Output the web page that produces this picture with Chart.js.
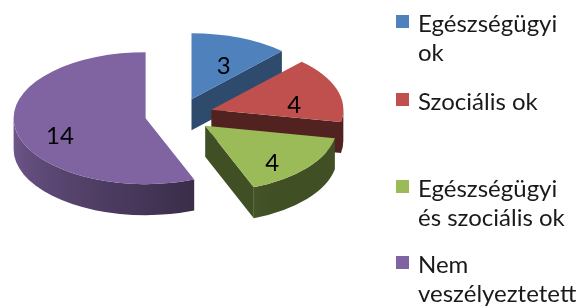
<!DOCTYPE html>
<html>
<head>
<meta charset="utf-8">
<script src="https://cdn.jsdelivr.net/npm/chart.js@4/dist/chart.umd.min.js"></script>
<style>
  html, body { margin: 0; padding: 0; background: #fff; }
  #wrap { position: relative; width: 584px; height: 308px; overflow: hidden; }
  #legend { position: absolute; left: 0; top: 0; width: 584px; height: 308px; font-family: Lato, sans-serif; font-size: 24px; color: #1a1a1a; }
  .item { position: absolute; left: 396px; }
  .box { position: absolute; left: 0; width: 13px; height: 13px; }
  .txt { position: absolute; left: 22px; white-space: pre; line-height: 29px; }
</style>
</head>
<body>
<div id="wrap">
  <canvas id="pie" width="584" height="308"></canvas>
  <div id="legend"></div>
</div>
<script>
// chart data
const categories = ['Egészségügyi\nok', 'Szociális ok', 'Egészségügyi\nés szociális ok', 'Nem\nveszélyeztetett'];
const values = [3, 4, 4, 14];
const colors = ['#4F81BD', '#C0504D', '#9BBB59', '#8064A2'];

function shade(hex, f) {
  const n = parseInt(hex.slice(1), 16);
  const r = Math.round(((n >> 16) & 255) * f);
  const g = Math.round(((n >> 8) & 255) * f);
  const b = Math.round((n & 255) * f);
  return `rgb(${r},${g},${b})`;
}

// brightness of the outer wall for a given angle (light from the left)
function wallLight(t) {
  const deg = t * 180 / Math.PI;
  if (deg <= 60) return 0.42;
  return 0.42 + 0.46 * Math.min(1, (deg - 60) / 120);
}

// brightness of a cut face, by the direction of its normal
function faceLight(n) {
  return 0.42 + 0.22 * Math.max(0, Math.cos(n));
}

/**
 * Draws the pie tilted with depth and exploded slices
 */
const pie3d = {
  id: 'pie3d',
  beforeDatasetsDraw(chart, args, opts) {
    const ctx = chart.ctx;
    const meta = chart.getDatasetMeta(0);
    const area = chart.chartArea;
    const cyc = (area.top + area.bottom) / 2;
    const k = opts.tilt, D = opts.depth, ex = opts.explode, cy = opts.centerY;

    const slices = meta.data.map((arc, i) => {
      const p = arc.getProps(['x', 'y', 'startAngle', 'endAngle', 'outerRadius'], true);
      const mid = (p.startAngle + p.endAngle) / 2;
      const dx = ex * Math.cos(mid), dy = ex * Math.sin(mid);
      return {
        arc, i, mid, dx, dy, R: p.outerRadius,
        start: p.startAngle, end: p.endAngle,
        px: p.x + dx, py: cy + k * (p.y + dy - cyc)
      };
    });

    // sides
    slices.forEach(s => {
      const base = colors[s.i];
      [[s.start, s.start - Math.PI / 2], [s.end, s.end + Math.PI / 2]].forEach(([t, n]) => {
        if (Math.sin(n) <= 0.01) return;
        const qx = s.px + s.R * Math.cos(t), qy = s.py + k * s.R * Math.sin(t);
        ctx.beginPath();
        ctx.moveTo(s.px, s.py);
        ctx.lineTo(qx, qy);
        ctx.lineTo(qx, qy + D);
        ctx.lineTo(s.px, s.py + D);
        ctx.closePath();
        ctx.fillStyle = shade(base, faceLight(n));
        ctx.fill();
      });

      const a = Math.max(s.start, 0), b = Math.min(s.end, Math.PI);
      if (b > a) {
        const xl = s.px + s.R * Math.cos(b), xr = s.px + s.R * Math.cos(a);
        const grad = ctx.createLinearGradient(xl, 0, xr, 0);
        for (let j = 0; j <= 12; j++) {
          const t = b - (b - a) * j / 12;
          const x = s.px + s.R * Math.cos(t);
          const pos = xr > xl ? (x - xl) / (xr - xl) : 0;
          grad.addColorStop(Math.min(1, Math.max(0, pos)), shade(base, wallLight(t)));
        }
        ctx.beginPath();
        ctx.ellipse(s.px, s.py, s.R, k * s.R, 0, a, b);
        ctx.ellipse(s.px, s.py + D, s.R, k * s.R, 0, b, a, true);
        ctx.closePath();
        ctx.fillStyle = grad;
        ctx.fill();
      }
    });

    // tops
    slices.forEach(s => {
      ctx.save();
      ctx.translate(0, cy);
      ctx.scale(1, k);
      ctx.translate(0, -cyc);
      ctx.translate(s.dx, s.dy);
      s.arc.draw(ctx);
      ctx.restore();
    });

    chart.$slices = slices;
    return false;
  },
  afterDraw(chart, args, opts) {
    const ctx = chart.ctx;
    const k = opts.tilt, D = opts.depth;
    ctx.save();
    ctx.font = '24px Lato, sans-serif';
    ctx.fillStyle = '#000';
    ctx.textAlign = 'center';
    ctx.textBaseline = 'middle';
    (chart.$slices || []).forEach(s => {
      const lx = s.px + 0.66 * s.R * Math.cos(s.mid);
      const ly = s.py + 0.68 * k * s.R * Math.sin(s.mid) + D * 0.3;
      ctx.fillText(String(values[s.i]), lx, ly);
    });
    ctx.restore();
  }
};

const chart = new Chart(document.getElementById('pie').getContext('2d'), {
  type: 'pie',
  data: {
    labels: categories,
    datasets: [{
      data: values,
      backgroundColor: colors,
      borderWidth: 0
    }]
  },
  options: {
    responsive: false,
    animation: false,
    events: [],
    layout: { padding: { left: 47, right: 273, top: 22, bottom: 22 } },
    plugins: {
      legend: { display: false },
      tooltip: { enabled: false },
      pie3d: { tilt: 0.5, depth: 31, explode: 34, centerY: 115 }
    }
  },
  plugins: [pie3d]
});

// legend (entry tops follow the original layout)
const legendTops = [10, 88, 175, 251];
const legend = document.getElementById('legend');
categories.forEach((label, i) => {
  const item = document.createElement('div');
  item.className = 'item';
  item.style.top = legendTops[i] + 'px';
  const box = document.createElement('div');
  box.className = 'box';
  box.style.background = colors[i];
  box.style.top = '5px';
  const txt = document.createElement('div');
  txt.className = 'txt';
  txt.style.top = '-2px';
  txt.textContent = label;
  item.appendChild(box);
  item.appendChild(txt);
  legend.appendChild(item);
});
</script>
</body>
</html>
